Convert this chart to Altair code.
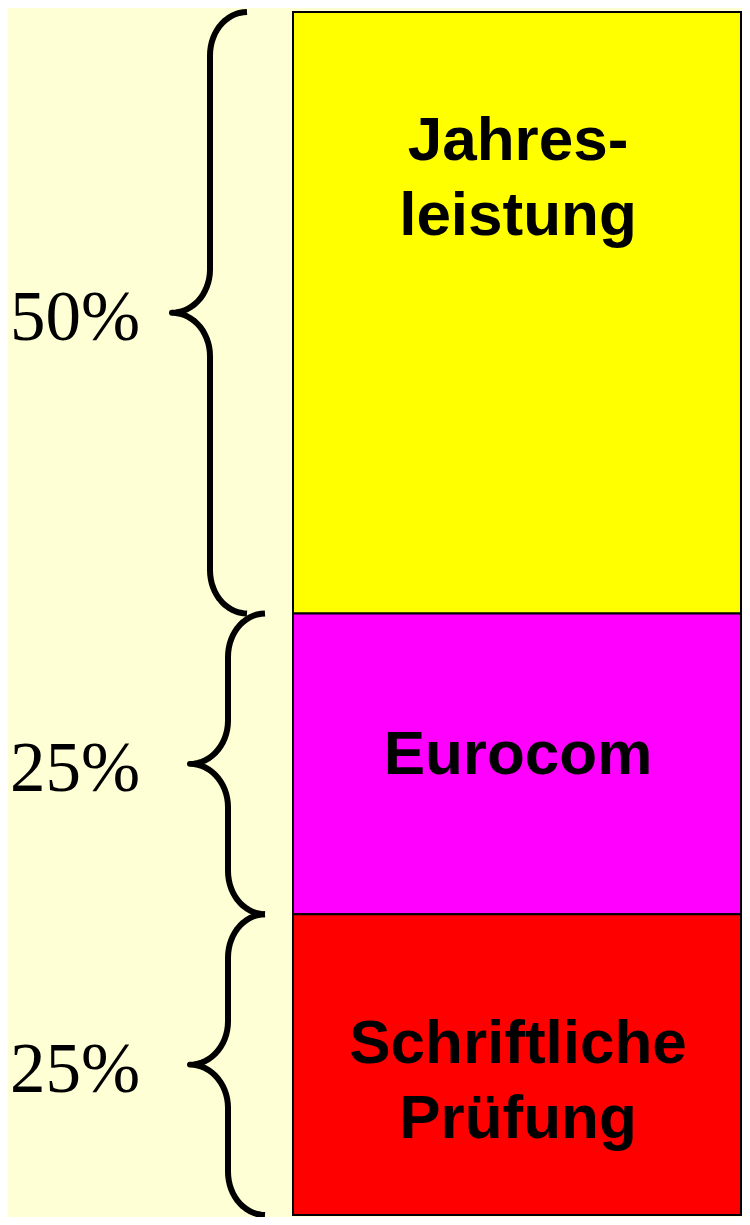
import altair as alt
import pandas as pd
import numpy as np

# ---- data ----
categories = ["Jahresleistung", "Eurocom", "Schriftliche Prüfung"]
label_text = ["Jahres-|leistung", "Eurocom", "Schriftliche|Prüfung"]
shares = [50, 25, 25]
colors = ["#FFFF00", "#FF00FF", "#FF0000"]

# ---- style ----
BG = "#FFFFD5"
brace_tip_x = [164, 182, 182]   # pixel x of each brace tip (style)
TIP_TO_BODY = 38
BODY_TO_END = 37
RY = 3.6                        # curve height in value units (style)
label_dy = {"Jahresleistung": -153, "Eurocom": 10, "Schriftliche Prüfung": -2}

df = pd.DataFrame({
    "category": categories,
    "share": shares,
    "label": label_text,
    "order": list(range(len(categories))),
})

# brace outlines derived from stacked shares
rows = []
cum = np.cumsum([0] + shares)
t = np.linspace(0, np.pi / 2, 16)
for b, (lo, hi) in enumerate(zip(cum[:-1], cum[1:])):
    m = (lo + hi) / 2
    tip = brace_tip_x[b]
    body = tip + TIP_TO_BODY
    end = body + BODY_TO_END
    pts = []
    pts += list(zip(end - BODY_TO_END * np.sin(t), (lo + RY) - RY * np.cos(t)))
    pts += list(zip(tip + TIP_TO_BODY * np.cos(t), (m - RY) + RY * np.sin(t)))
    pts += list(zip(tip + TIP_TO_BODY * np.sin(t), m + RY * (1 - np.cos(t))))
    pts += list(zip(body + BODY_TO_END * (1 - np.cos(t)), (hi - RY) + RY * np.sin(t)))
    for i, (px, py) in enumerate(pts):
        rows.append({"brace": b, "i": i, "bx": float(px), "by": float(py)})
braces_df = pd.DataFrame(rows)

yscale = alt.Scale(domain=[0, 100], reverse=True, nice=False, zero=False)

base = (
    alt.Chart(df)
    .transform_window(end="sum(share)", sort=[alt.SortField("order")], frame=[None, 0])
    .transform_calculate(
        start="datum.end - datum.share",
        mid="(datum.start + datum.end) / 2",
        pct="datum.share + '%'",
        lines="split(datum.label, '|')",
    )
)

bars = base.mark_bar(stroke="black", strokeWidth=2).encode(
    x=alt.value(285),
    x2=alt.value(733),
    y=alt.Y("start:Q", scale=yscale, axis=None),
    y2="end:Q",
    color=alt.Color("category:N", scale=alt.Scale(domain=categories, range=colors), legend=None),
)

pct_text = base.mark_text(
    font="Liberation Serif", fontSize=71, baseline="alphabetic", align="center", color="black", dy=27
).encode(
    x=alt.value(67),
    y=alt.Y("mid:Q", scale=yscale, axis=None),
    text="pct:N",
)

label_layers = []
for cat in categories:
    label_layers.append(
        base.transform_filter(alt.datum.category == cat)
        .mark_text(
            font="Liberation Sans", fontWeight="bold", fontSize=62, lineHeight=75.5,
            baseline="alphabetic", align="center", color="black", dy=label_dy[cat],
        )
        .encode(
            x=alt.value(510),
            y=alt.Y("mid:Q", scale=yscale, axis=None),
            text="lines:N",
        )
    )

brace_lines = (
    alt.Chart(braces_df)
    .mark_line(color="black", strokeWidth=6, strokeCap="butt", strokeJoin="round")
    .encode(
        x=alt.X("bx:Q", scale=None, axis=None),
        y=alt.Y("by:Q", scale=yscale, axis=None),
        detail="brace:N",
        order="i:Q",
    )
)

chart = (
    alt.layer(bars, brace_lines, pct_text, *label_layers)
    .properties(
        width=734,
        height=1203,
        padding={"left": 0, "top": 4, "right": 0, "bottom": 2},
        autosize=alt.AutoSizeParams(type="none"),
        background=BG,
    )
    .configure_view(stroke=None)
)

chart.save("out.html", embed_options={"renderer": "svg", "actions": False})
